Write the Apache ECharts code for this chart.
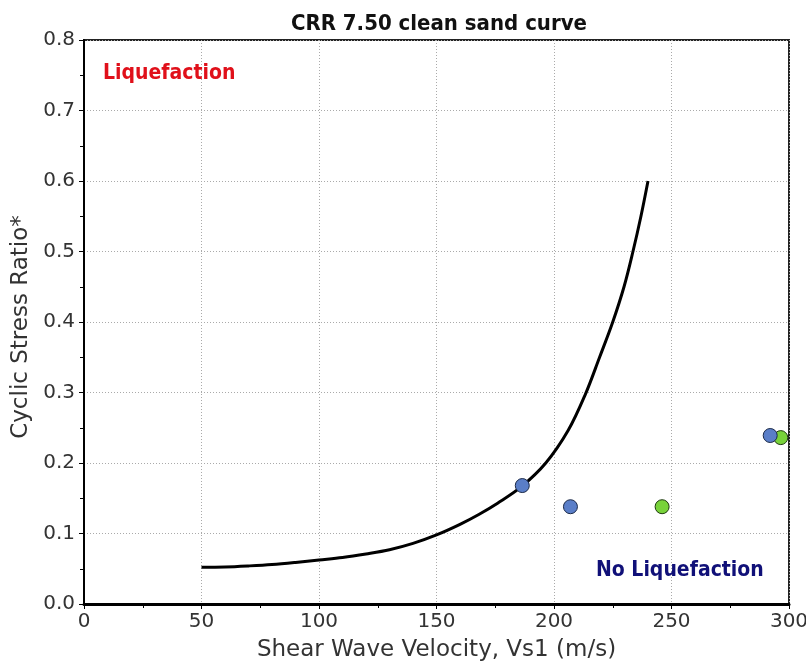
<!DOCTYPE html>
<html>
<head>
<meta charset="utf-8">
<script src="https://cdn.jsdelivr.net/npm/echarts@6/dist/echarts.min.js"></script>
<style>
html,body{margin:0;padding:0;background:#fff;}
#chart{width:806px;height:666px;}
</style>
</head>
<body>
<div id="chart"></div>
<script>
// CRR clean sand curve
const curveVs1 = [50, 60, 70, 80, 90, 100, 110, 120, 130, 140, 150, 160, 168, 176, 186, 196.5, 206, 213.3, 219.4, 225, 229.8, 233.6, 237, 240];
const curveCrr = [0.052, 0.0525, 0.054, 0.056, 0.059, 0.0625, 0.066, 0.071, 0.077, 0.086, 0.098, 0.113, 0.127, 0.143, 0.166, 0.2, 0.246, 0.297, 0.35, 0.4, 0.45, 0.5, 0.55, 0.6];
// data points
const blueVs1 = [186.5, 207, 292];
const blueCsr = [0.168, 0.138, 0.239];
const greenVs1 = [246, 296.5];
const greenCsr = [0.138, 0.236];
// axes
const xTicks = [0, 50, 100, 150, 200, 250, 300];
const yTicks = [0.0, 0.1, 0.2, 0.3, 0.4, 0.5, 0.6, 0.7, 0.8];
const titleText = 'CRR 7.50 clean sand curve';
const xName = 'Shear Wave Velocity, Vs1 (m/s)';
const yName = 'Cyclic Stress Ratio*';
const zoneTop = 'Liquefaction';
const zoneBottom = 'No Liquefaction';

const zip = (a, b) => a.map((v, i) => [v, b[i]]);
const chart = echarts.init(document.getElementById('chart'), null, {renderer: 'canvas'});
const tickFont = {fontFamily: 'DejaVu Sans', fontSize: 20, color: '#333'};
chart.setOption({
  animation: false,
  backgroundColor: '#fff',
  title: {
    text: titleText, left: 434, top: 8, textAlign: 'center',
    textStyle: {fontFamily: '"DejaVu Sans Condensed", "DejaVu Sans"', fontWeight: 'bold', fontSize: 22, color: '#111'}
  },
  grid: {left: 84, right: 17, top: 40, bottom: 62, outerBoundsMode: 'none', containLabel: false,
         show: true, borderColor: '#222', borderWidth: 2, backgroundColor: 'transparent'},
  xAxis: {
    type: 'value', min: xTicks[0], max: xTicks[xTicks.length - 1], interval: 50,
    name: xName, nameLocation: 'middle', nameGap: 35,
    nameTextStyle: {fontFamily: 'DejaVu Sans', fontSize: 23, color: '#333'},
    axisLine: {show: true, onZero: false, lineStyle: {color: '#000', width: 3}},
    axisTick: {show: true, length: 5, lineStyle: {color: '#000', width: 1}},
    minorTick: {show: true, splitNumber: 2, length: 4, lineStyle: {color: '#000', width: 1}},
    axisLabel: Object.assign({margin: 8, formatter: v => String(v)}, tickFont),
    splitLine: {show: true, lineStyle: {color: '#aaa', width: 1, type: [1, 2]}}
  },
  yAxis: {
    type: 'value', min: yTicks[0], max: yTicks[yTicks.length - 1], interval: 0.1,
    name: yName, nameLocation: 'middle', nameGap: 50, nameRotate: 90,
    nameTextStyle: {fontFamily: 'DejaVu Sans', fontSize: 23, color: '#333', padding: [0, 0, 0, -10]},
    axisLine: {show: true, onZero: false, lineStyle: {color: '#000', width: 2}},
    axisTick: {show: true, length: 5, lineStyle: {color: '#000', width: 1}},
    minorTick: {show: true, splitNumber: 2, length: 4, lineStyle: {color: '#000', width: 1}},
    axisLabel: Object.assign({margin: 9, formatter: v => v.toFixed(1)}, tickFont),
    splitLine: {show: true, lineStyle: {color: '#aaa', width: 1, type: [1, 2]}}
  },
  series: [
    {
      type: 'line', data: zip(curveVs1, curveCrr), smooth: 0.35, showSymbol: false,
      lineStyle: {color: '#000', width: 3}, z: 2
    },
    {
      type: 'scatter', data: zip(greenVs1, greenCsr), symbol: 'circle', symbolSize: 14, clip: false,
      itemStyle: {color: '#78d23a', borderColor: '#1f3a10', borderWidth: 1, opacity: 1}, z: 3
    },
    {
      type: 'scatter', data: zip(blueVs1, blueCsr), symbol: 'circle', symbolSize: 14, clip: false,
      itemStyle: {color: '#5a7ec8', borderColor: '#1c2a48', borderWidth: 1, opacity: 1}, z: 4
    }
  ],
  graphic: [
    {type: 'text', left: 103, top: 63, z: 10,
     style: {text: zoneTop, fill: '#e0101a', font: 'bold 21px "DejaVu Sans Condensed", "DejaVu Sans"'}},
    {type: 'text', left: 596, top: 560, z: 10,
     style: {text: zoneBottom, fill: '#101078', font: 'bold 21px "DejaVu Sans Condensed", "DejaVu Sans"'}}
  ]
});
</script>
</body>
</html>
